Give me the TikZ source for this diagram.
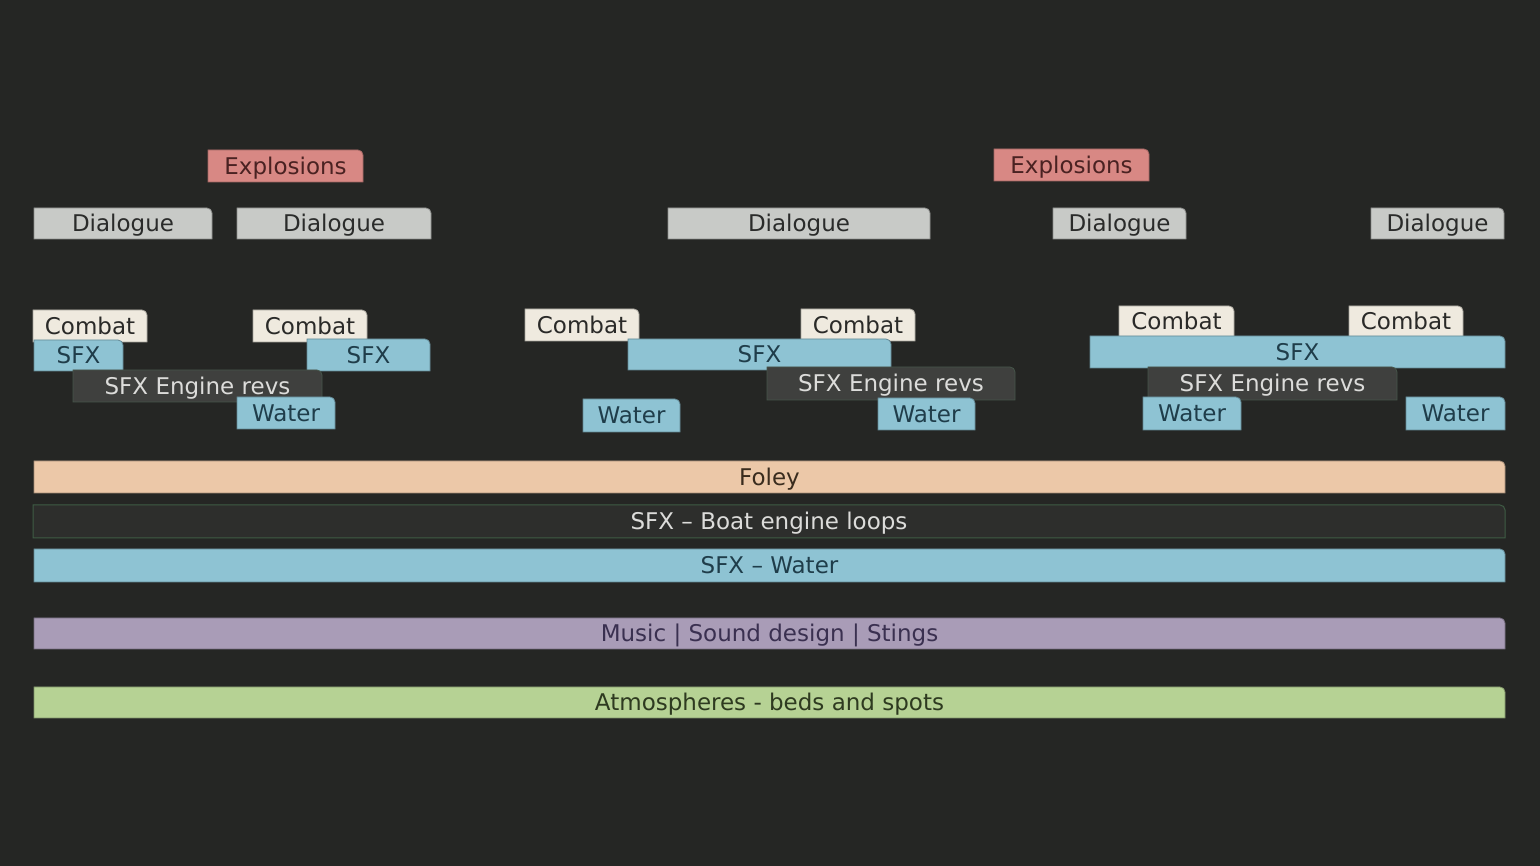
\documentclass[tikz,border=0pt]{standalone}
\usepackage{fontspec}
\setmainfont{DejaVu Sans}
\definecolor{bg}{HTML}{252624}
\definecolor{explF}{HTML}{D88884}
\definecolor{explT}{HTML}{4A2222}
\definecolor{dialF}{HTML}{C8CAC7}
\definecolor{dialT}{HTML}{2A2B2A}
\definecolor{combF}{HTML}{EFEADF}
\definecolor{combT}{HTML}{2A2A28}
\definecolor{sfxF}{HTML}{8EC3D3}
\definecolor{sfxT}{HTML}{1F3D4A}
\definecolor{engF}{HTML}{3F403E}
\definecolor{engD}{HTML}{46564A}
\definecolor{engT}{HTML}{DCDCDA}
\definecolor{folF}{HTML}{ECC8A8}
\definecolor{folT}{HTML}{3A2C1E}
\definecolor{boatF}{HTML}{2D2E2C}
\definecolor{boatD}{HTML}{3E5C44}
\definecolor{musF}{HTML}{A99CB7}
\definecolor{musT}{HTML}{3A3050}
\definecolor{atmF}{HTML}{B6D294}
\definecolor{atmT}{HTML}{2E3A20}
\newcommand\blk[7]{%
  \path[#6box] (#2,{866-#5}) -- (#2,{866-#3}) -- ({#4-5},{866-#3}) arc[start angle=90,end angle=0,radius=5] -- (#4,{866-#5}) -- cycle;
  \node[lbl,#6txt] (#1) at ({(#2+#4)/2},{866-(#3+#5)/2}) {#7};}
\tikzset{
  lbl/.style={font=\fontsize{23}{27}\selectfont, inner sep=0pt, text height=16.8pt, text depth=0pt},
  explbox/.style={fill=explF, draw=explF!75!black, line width=0.8pt},
  expltxt/.style={text=explT},
  dialbox/.style={fill=dialF, draw=dialF!70!black, line width=0.8pt},
  dialtxt/.style={text=dialT},
  combbox/.style={fill=combF, draw=combF!70!black, line width=0.8pt},
  combtxt/.style={text=combT},
  sfxbox/.style={fill=sfxF, draw=sfxF!70!black, line width=0.8pt},
  sfxtxt/.style={text=sfxT},
  engbox/.style={fill=engF, draw=engD, line width=0.8pt},
  engtxt/.style={text=engT},
  folbox/.style={fill=folF, draw=folF!70!black, line width=0.8pt},
  foltxt/.style={text=folT},
  boatbox/.style={fill=boatF, draw=boatD, line width=1pt},
  boattxt/.style={text=engT},
  musbox/.style={fill=musF, draw=musF!70!black, line width=0.8pt},
  mustxt/.style={text=musT},
  atmbox/.style={fill=atmF, draw=atmF!70!black, line width=0.8pt},
  atmtxt/.style={text=atmT},
}
\begin{document}
\begin{tikzpicture}[x=1pt,y=1pt]
\useasboundingbox (0,0) rectangle (1540,866);
\fill[bg] (0,0) rectangle (1540,866);
% top row
\blk{ex1}{208}{150}{363}{182}{expl}{Explosions}
\blk{ex2}{994}{149}{1149}{181}{expl}{Explosions}
\blk{d1}{34}{208}{212}{239}{dial}{Dialogue}
\blk{d2}{237}{208}{431}{239}{dial}{Dialogue}
\blk{d3}{668}{208}{930}{239}{dial}{Dialogue}
\blk{d4}{1053}{208}{1186}{239}{dial}{Dialogue}
\blk{d5}{1371}{208}{1504}{239}{dial}{Dialogue}
% group 1
\blk{c1}{33}{310}{147}{342}{comb}{Combat}
\blk{c2}{253}{310}{367}{342}{comb}{Combat}
\blk{s1}{34}{340}{123}{371}{sfx}{SFX}
\blk{s2}{307}{339}{430}{371}{sfx}{SFX}
\blk{e1}{73}{370}{322}{402}{eng}{SFX Engine revs}
\blk{w1}{237}{397}{335}{429}{sfx}{Water}
% group 2
\blk{c3}{525}{309}{639}{341}{comb}{Combat}
\blk{c4}{801}{309}{915}{341}{comb}{Combat}
\blk{s3}{628}{339}{891}{370}{sfx}{SFX}
\blk{e2}{767}{367}{1015}{400}{eng}{SFX Engine revs}
\blk{w2}{583}{399}{680}{432}{sfx}{Water}
\blk{w3}{878}{398}{975}{430}{sfx}{Water}
% group 3
\blk{c5}{1119}{306}{1234}{337}{comb}{Combat}
\blk{c6}{1349}{306}{1463}{337}{comb}{Combat}
\blk{s4}{1090}{336}{1505}{368}{sfx}{SFX}
\blk{e3}{1148}{367}{1397}{400}{eng}{SFX Engine revs}
\blk{w4}{1143}{397}{1241}{430}{sfx}{Water}
\blk{w5}{1406}{397}{1505}{430}{sfx}{Water}
% bars
\blk{foley}{34}{461}{1505}{493}{fol}{Foley}
\blk{boat}{33}{505}{1505}{538}{boat}{SFX – Boat engine loops}
\blk{water}{34}{549}{1505}{582}{sfx}{SFX – Water}
\blk{music}{34}{618}{1505}{649}{mus}{Music | Sound design | Stings}
\blk{atmos}{34}{687}{1505}{718}{atm}{Atmospheres - beds and spots}
\end{tikzpicture}
\end{document}
